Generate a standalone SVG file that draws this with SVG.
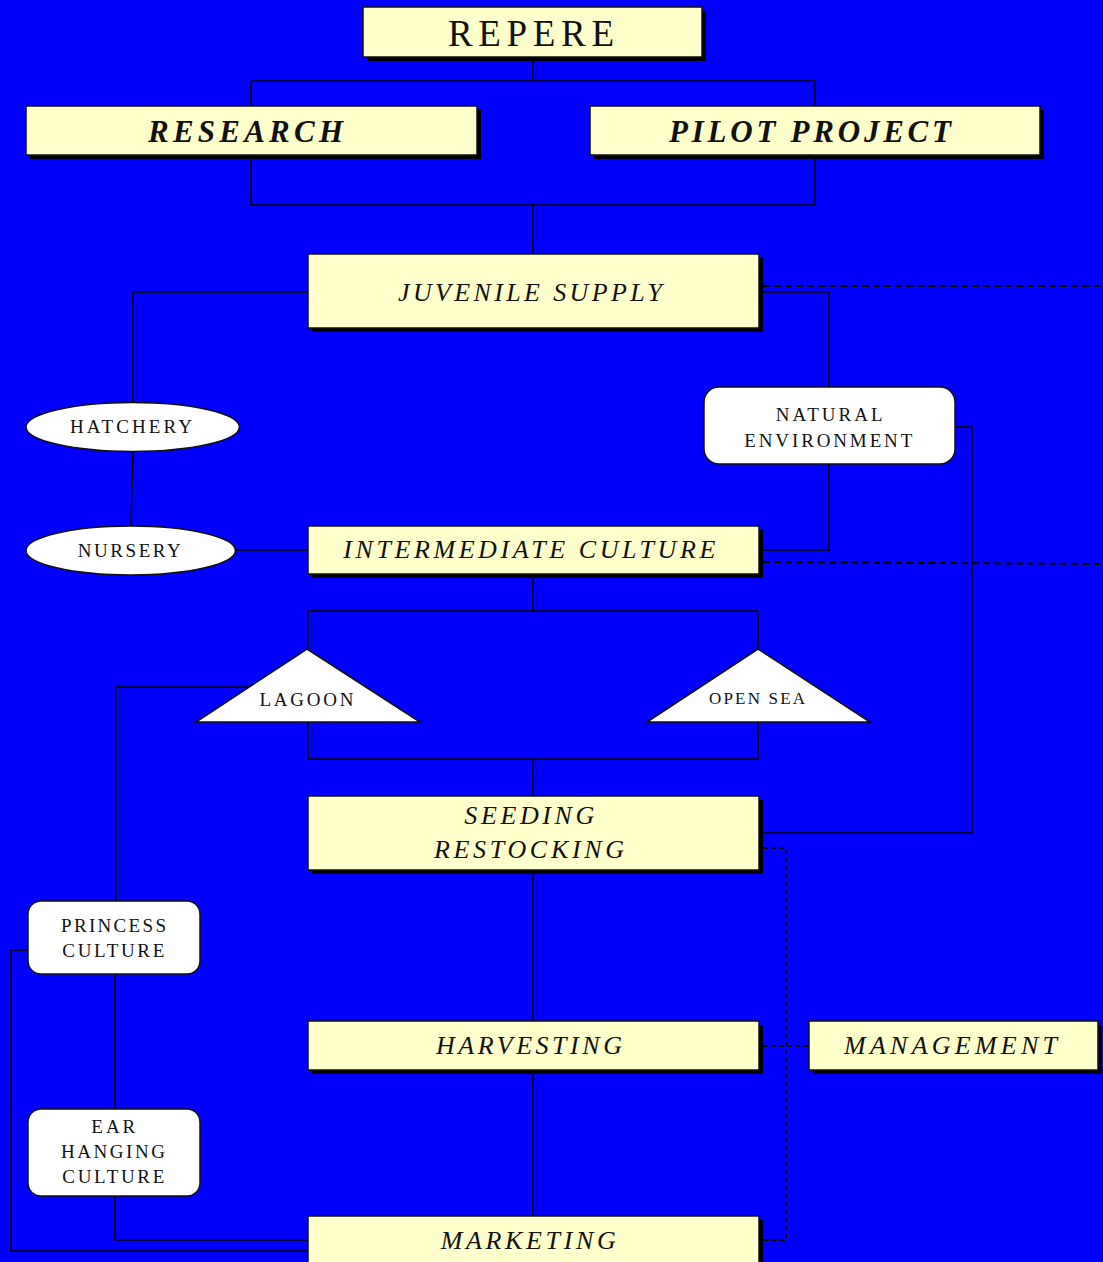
<svg xmlns="http://www.w3.org/2000/svg" width="1103" height="1262" viewBox="0 0 1103 1262">
<defs>
<style>
.bg{fill:#0000FF}
.box{fill:#FFFFCC;stroke:#111;stroke-width:1.5}
.shd{fill:#000}
.wht{fill:#FFFFFF;stroke:#111;stroke-width:1.5}
.ln{fill:none;stroke:#000;stroke-width:1.5}
.dsh{fill:none;stroke:#000;stroke-width:2;stroke-dasharray:7,4}
.dsh2{fill:none;stroke:#000;stroke-width:1.8;stroke-dasharray:5,3}
text{font-family:"Liberation Serif","Times New Roman",serif;fill:#111}
.big{font-size:26px;font-style:italic}
.bold{font-size:31px;font-style:italic;font-weight:bold}
.sm{font-size:19px}
.xs{font-size:17px}
</style>
</defs>
<rect class="bg" x="0" y="0" width="1103" height="1262"/>

<g id="connectors">
<path class="ln" d="M533,57 V81 M251,81 H815 M251,81 V205 M815,81 V205 M251,205 H815 M533,205 V254"/>
<path class="ln" d="M308,292 H133 V403 M133,452 L131,526 M235,550 H308"/>
<path class="ln" d="M760,292 H829 V388 M829,464 V550 H760"/>
<path class="ln" d="M955,427 H972 V833 H760"/>
<path class="ln" d="M533,574 V611 M308,611 H758 M308,611 V649 M758,611 V649"/>
<path class="ln" d="M308,722 V759 H758 V722 M533,759 V796"/>
<path class="ln" d="M250,687 H116 V901"/>
<path class="ln" d="M533,870 V1021 M533,1070 V1216"/>
<path class="ln" d="M115,974 V1109 M115,1196 V1240 H308"/>
<path class="ln" d="M28,950 H11 V1251 H308"/>
<path class="dsh" d="M763,286 H1103"/>
<path class="dsh" d="M763,562 L1103,564"/>
<path class="dsh2" d="M763,848 H786 V1240 H763"/>
<path class="dsh2" d="M763,1046 H809"/>
</g>

<g id="repere">
<rect class="shd" x="367" y="11" width="339" height="50"/>
<rect class="box" x="363" y="7" width="339" height="50"/>
<text x="448" y="45.5" font-size="37" textLength="166">REPERE</text>
</g>

<g id="research">
<rect class="shd" x="30" y="110" width="451" height="49"/>
<rect class="box" x="26" y="106" width="451" height="49"/>
<text class="bold" x="148" y="142" textLength="195">RESEARCH</text>
</g>

<g id="pilot-project">
<rect class="shd" x="594" y="110" width="450" height="49"/>
<rect class="box" x="590" y="106" width="450" height="49"/>
<text class="bold" x="669" y="142" textLength="282">PILOT PROJECT</text>
</g>

<g id="juvenile-supply">
<rect class="shd" x="312" y="258" width="451" height="74"/>
<rect class="box" x="308" y="254" width="451" height="74"/>
<text class="big" x="398" y="300.5" font-size="27" textLength="264">JUVENILE SUPPLY</text>
</g>

<g id="hatchery">
<ellipse class="wht" cx="132.7" cy="427" rx="106.7" ry="24.5"/>
<text class="sm" x="70" y="433.3" textLength="122">HATCHERY</text>
</g>

<g id="nursery">
<ellipse class="wht" cx="130.7" cy="550.5" rx="104.7" ry="24.5"/>
<text class="sm" x="77.7" y="557.3" textLength="103">NURSERY</text>
</g>

<g id="natural-environment">
<rect class="wht" x="704" y="387" width="251" height="77" rx="15" ry="15"/>
<text class="sm" x="775.7" y="420.7" textLength="107">NATURAL</text>
<text class="sm" x="744.3" y="446.7" textLength="168">ENVIRONMENT</text>
</g>

<g id="intermediate-culture">
<rect class="shd" x="312" y="530" width="451" height="48"/>
<rect class="box" x="308" y="526" width="451" height="48"/>
<text class="big" x="343.3" y="558.3" textLength="372">INTERMEDIATE CULTURE</text>
</g>

<g id="lagoon">
<polygon class="wht" points="307,649 420,722 196,722"/>
<text class="sm" x="259.4" y="706" textLength="94">LAGOON</text>
</g>

<g id="open-sea">
<polygon class="wht" points="758,649 870,722 647,722"/>
<text class="xs" x="709" y="704" textLength="96">OPEN SEA</text>
</g>

<g id="seeding-restocking">
<rect class="shd" x="312" y="800" width="451" height="74"/>
<rect class="box" x="308" y="796" width="451" height="74"/>
<text class="big" x="464.3" y="824" textLength="130">SEEDING</text>
<text class="big" x="434" y="858.3" textLength="190">RESTOCKING</text>
</g>

<g id="princess-culture">
<rect class="wht" x="28" y="901" width="172" height="73" rx="13" ry="13"/>
<text class="sm" x="61" y="931.7" textLength="105">PRINCESS</text>
<text class="sm" x="62.3" y="956.7" textLength="102">CULTURE</text>
</g>

<g id="harvesting">
<rect class="shd" x="312" y="1025" width="451" height="49"/>
<rect class="box" x="308" y="1021" width="451" height="49"/>
<text class="big" x="436" y="1054" textLength="186">HARVESTING</text>
</g>

<g id="management">
<rect class="shd" x="813" y="1025" width="289" height="49"/>
<rect class="box" x="809" y="1021" width="289" height="49"/>
<text class="big" x="844" y="1054" textLength="213">MANAGEMENT</text>
</g>

<g id="ear-hanging-culture">
<rect class="wht" x="28" y="1109" width="172" height="87" rx="13" ry="13"/>
<text class="sm" x="91.3" y="1133.3" textLength="44">EAR</text>
<text class="sm" x="61" y="1158.3" textLength="104">HANGING</text>
<text class="sm" x="62.3" y="1183.3" textLength="102">CULTURE</text>
</g>

<g id="marketing">
<rect class="shd" x="312" y="1220" width="451" height="60"/>
<rect class="box" x="308" y="1216" width="451" height="60"/>
<text class="big" x="440.7" y="1249.3" textLength="175">MARKETING</text>
</g>
</svg>
